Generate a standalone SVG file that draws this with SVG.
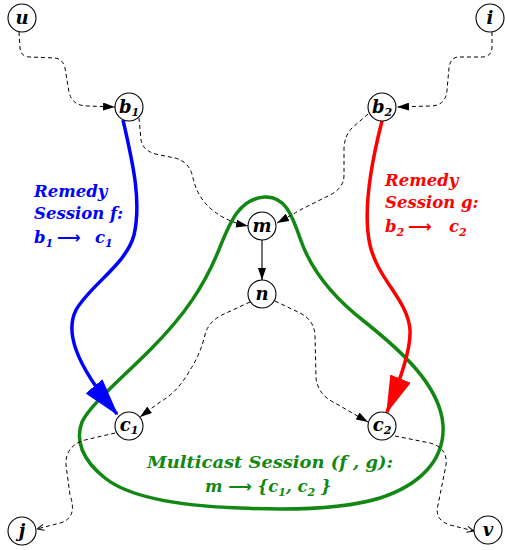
<svg xmlns="http://www.w3.org/2000/svg" width="505" height="550" viewBox="0 0 505 550">
<style>
.node circle{fill:#fff;stroke:#000;stroke-width:1.1}
.lbl{font-family:"DejaVu Serif","Liberation Serif",serif;font-weight:bold;font-style:italic;font-size:18px;text-anchor:middle;fill:#000}
.sub{font-size:11px}
.dash{fill:none;stroke:#000;stroke-width:1;stroke-dasharray:4,3}
.solid{fill:none;stroke:#000;stroke-width:1.1}
.cap{font-family:"DejaVu Serif","Liberation Serif",serif;font-weight:bold;font-style:italic;font-size:16.5px}
.arr{font-family:"DejaVu Sans",sans-serif;font-style:normal}
</style>
<defs>
<marker id="ah" viewBox="0 0 12 8" refX="12" refY="4" markerWidth="12" markerHeight="8" markerUnits="userSpaceOnUse" orient="auto">
<path d="M0,0 L12,4 L0,8 Z" fill="#000"/>
</marker>
<marker id="ao" viewBox="0 0 8 8" refX="8" refY="4" markerWidth="8" markerHeight="8" markerUnits="userSpaceOnUse" orient="auto">
<path d="M1,1 L8,4 L1,7" fill="none" stroke="#000" stroke-width="1"/>
</marker>
<marker id="ab" viewBox="0 0 38 22" refX="36" refY="11" markerWidth="38" markerHeight="22" markerUnits="userSpaceOnUse" orient="auto">
<path d="M0,0 L38,11 L0,22 Z" fill="#0000ff"/>
</marker>
<marker id="ar" viewBox="0 0 38 22" refX="36" refY="11" markerWidth="38" markerHeight="22" markerUnits="userSpaceOnUse" orient="auto">
<path d="M0,0 L38,11 L0,22 Z" fill="#ff0000"/>
</marker>
</defs>

<g id="multicast-region">
<path d="M265,197 C285,196 292,215 300,238 C310,268 330,295 365,322 C400,350 440,385 443,425 C445,460 420,485 380,498 C340,510 280,510 240,508 C180,506 130,498 105,478 C82,460 75,440 82,422 C90,405 120,380 150,350 C185,315 205,285 220,247 C230,222 240,198 265,197 Z" fill="none" stroke="#118811" stroke-width="3.5"/>
</g>

<g id="connectors">
<path class="dash" d="M19,32 L20,48 Q21,57 30,57 L55,58 Q63,59 65,68 L69,92 Q72,106 88,106 L115,107" marker-end="url(#ah)"/>
<path class="dash" d="M492,32 L492,48 Q491,57 482,57 L458,57 Q450,58 449,68 L447,90 Q446,106 430,106 L397,107" marker-end="url(#ah)"/>
<path class="dash" d="M139,118 L141,140 Q143,152 160,155 L175,158 Q190,162 193,178 Q198,200 215,212 Q228,222 248,226" marker-end="url(#ah)"/>
<path class="dash" d="M368,114 L352,128 Q344,136 344,150 L344,175 Q344,188 330,195 L300,210 Q290,216 277,223" marker-end="url(#ah)"/>
<path class="solid" d="M262,240 L262,280" marker-end="url(#ah)"/>
<path class="dash" d="M250,302 L222,315 Q208,322 205,335 Q200,355 190,370 Q178,392 160,402 L140,417" marker-end="url(#ah)"/>
<path class="dash" d="M275,301 L300,313 Q314,320 315,335 L316,378 Q318,395 335,403 L368,422" marker-end="url(#ah)"/>
<path class="dash" d="M115,433 L85,440 Q65,446 66,465 L70,495 Q78,518 60,523 L37,529" marker-end="url(#ao)"/>
<path class="dash" d="M395,436 L430,443 Q448,448 446,465 L438,505 Q434,520 450,525 L474,531" marker-end="url(#ao)"/>
<path d="M123,120 C132,160 142,200 134,235 C126,265 90,285 76,310 C66,330 72,360 117,414" fill="none" stroke="#0000ff" stroke-width="3.5" marker-end="url(#ab)"/>
<path d="M382,121 C372,160 362,210 370,245 C378,280 408,300 410,330 C411,350 400,380 387,412" fill="none" stroke="#ff0000" stroke-width="3.5" marker-end="url(#ar)"/>
</g>

<g id="node-u" class="node"><circle cx="22" cy="18" r="14"/><text class="lbl" x="22" y="24">u</text></g>
<g id="node-i" class="node"><circle cx="490" cy="18" r="14"/><text class="lbl" x="490" y="24">i</text></g>
<g id="node-b1" class="node"><circle cx="129" cy="107" r="14"/><text class="lbl" x="129" y="113">b<tspan class="sub" dy="3">1</tspan></text></g>
<g id="node-b2" class="node"><circle cx="382" cy="107" r="14"/><text class="lbl" x="382" y="113">b<tspan class="sub" dy="3">2</tspan></text></g>
<g id="node-m" class="node"><circle cx="262" cy="226" r="14"/><text class="lbl" x="262" y="232">m</text></g>
<g id="node-n" class="node"><circle cx="262" cy="294" r="14"/><text class="lbl" x="262" y="300">n</text></g>
<g id="node-c1" class="node"><circle cx="129" cy="426" r="14"/><text class="lbl" x="129" y="431">c<tspan class="sub" dy="3">1</tspan></text></g>
<g id="node-c2" class="node"><circle cx="382" cy="426" r="14"/><text class="lbl" x="382" y="431">c<tspan class="sub" dy="3">2</tspan></text></g>
<g id="node-j" class="node"><circle cx="22" cy="531" r="14"/><text class="lbl" x="22" y="537">j</text></g>
<g id="node-v" class="node"><circle cx="488" cy="530" r="14"/><text class="lbl" x="488" y="536">v</text></g>

<g id="label-f" class="cap" fill="#0000ff">
<text x="34" y="197">Remedy</text>
<text x="34" y="219">Session f:</text>
<text x="34" y="243">b<tspan class="sub" dy="4">1</tspan><tspan class="arr" x="57" dy="-4">⟶</tspan><tspan x="95">c</tspan><tspan class="sub" dy="4">1</tspan></text>
</g>
<g id="label-g" class="cap" fill="#ff0000">
<text x="385" y="186">Remedy</text>
<text x="385" y="208">Session g:</text>
<text x="385" y="232">b<tspan class="sub" dy="4">2</tspan><tspan class="arr" x="408" dy="-4">⟶</tspan><tspan x="449">c</tspan><tspan class="sub" dy="4">2</tspan></text>
</g>
<g id="label-multicast" class="cap" fill="#118811">
<text x="147" y="468" textLength="246" lengthAdjust="spacingAndGlyphs">Multicast Session (f , g):</text>
<text x="205" y="492">m <tspan class="arr">⟶</tspan> {c<tspan class="sub" dy="4">1</tspan><tspan dy="-4">, c</tspan><tspan class="sub" dy="4">2</tspan><tspan dy="-4"> }</tspan></text>
</g>
</svg>
